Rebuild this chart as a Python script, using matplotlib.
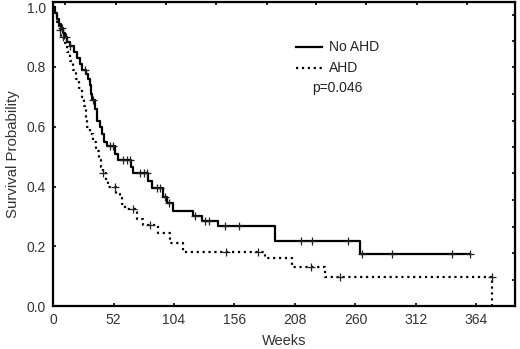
import numpy as np
from matplotlib import pyplot as plt

plt.rcParams['font.family'] = ['Liberation Sans', 'DejaVu Sans']

# step curves: time (weeks) where the survival drops, and the new level
no_ahd_t = [0, 1.7, 3.4, 5.1, 6.9, 8.6, 10.3, 12.0, 14.6, 18.0, 20.6, 23.2, 24.9,
            28.3, 30.0, 31.8, 32.6, 33.5, 36.0, 37.8, 40.3, 42.0, 43.8, 46.3, 53.2,
            55.8, 66.9, 68.6, 81.5, 84.9, 94.4, 97.8, 103.0, 120.1, 128.3, 141.6,
            190.5, 264.3]
no_ahd_s = [1.0, 0.98, 0.96, 0.945, 0.93, 0.915, 0.9, 0.885, 0.87, 0.85, 0.83, 0.81,
            0.79, 0.775, 0.76, 0.74, 0.71, 0.69, 0.66, 0.62, 0.6, 0.575, 0.55, 0.535,
            0.51, 0.49, 0.465, 0.445, 0.42, 0.395, 0.365, 0.345, 0.318, 0.30, 0.285,
            0.268, 0.217, 0.174]
no_ahd_end = 358.6
no_ahd_cens = [7.7, 11.2, 14.6, 27.5, 34.3, 48.9, 51.5, 60, 63.5, 66, 74.6, 78, 80.6,
               89.2, 91.8, 96.1, 99.5, 121.8, 130.4, 133.8, 147.6, 159.6, 213.6,
               223, 254, 265.2, 291, 343, 358.6]

ahd_t = [0, 1.7, 3.4, 5.1, 6.9, 9.4, 12.0, 14.6, 17.2, 19.7, 22.3, 24.9, 26.6, 28.3,
         29.5, 32.0, 34.3, 37.0, 39.5, 41.0, 42.9, 45.5, 47.2, 54.1, 57.5, 59.2, 61.8,
         72.1, 77.2, 90.1, 100.4, 111.5, 181.9, 205.1, 233.4, 377.5]
ahd_s = [1.0, 0.975, 0.95, 0.925, 0.9, 0.88, 0.85, 0.82, 0.79, 0.76, 0.73, 0.70,
         0.67, 0.63, 0.60, 0.575, 0.55, 0.52, 0.49, 0.465, 0.445, 0.42, 0.40, 0.375,
         0.36, 0.34, 0.325, 0.29, 0.27, 0.244, 0.21, 0.18, 0.16, 0.13, 0.097, 0.0]
ahd_end = 377.5
ahd_cens = [6.0, 8.5, 42.9, 53.2, 68.6, 83.2, 148.4, 175.9, 222.2, 247.1, 377.0]

x_ticks = [0, 52, 104, 156, 208, 260, 312, 364]
y_ticks = [0.0, 0.2, 0.4, 0.6, 0.8, 1.0]


def level_at(t, times, surv):
    idx = np.searchsorted(times, t, side='right') - 1
    return np.array(surv)[idx]


fig = plt.figure(figsize=(5.2, 3.49), dpi=100)
ax = fig.add_axes([0.102, 0.123, 0.888, 0.871])

for times, surv, end, cens, ls, lw in [
        (no_ahd_t, no_ahd_s, no_ahd_end, no_ahd_cens, '-', 1.6),
        (ahd_t, ahd_s, ahd_end, ahd_cens, ':', 1.6)]:
    tt = list(times) + [end]
    ss = list(surv) + [surv[-1]]
    ax.step(tt, ss, where='post', color='black', linestyle=ls, linewidth=lw)
    cy = level_at(np.array(cens), np.array(times), surv)
    if ls == ':':
        cy = np.where(np.array(cens) >= end - 1, surv[-2], cy)
    ax.plot(cens, cy, linestyle='none', marker='+', color='#222222',
            markersize=6, markeredgewidth=0.9)

ax.set_xlim(0, 397)
ax.set_ylim(0, 1.017)
ax.set_xticks(x_ticks)
ax.set_yticks(y_ticks)
ax.set_yticklabels(['%.1f' % v for v in y_ticks])
ax.tick_params(direction='in', length=2.5, width=1.2, labelsize=10,
               labelcolor='#333333', pad=5)
for sp in ax.spines.values():
    sp.set_linewidth(1.6)

# extra unlabeled ticks on top and right
top = ax.secondary_xaxis('top')
top.set_xticks([10.3, 54, 97, 140, 183.6, 226.5, 269.4, 313, 356])
top.tick_params(direction='in', length=2.5, width=1.2, labeltop=False)
right = ax.secondary_yaxis('right')
right.set_yticks([0.087, 0.177, 0.264, 0.355, 0.445, 0.532, 0.619, 0.709, 0.8,
                  0.886, 0.973])
right.tick_params(direction='in', length=2.5, width=1.2, labelright=False)

ax.set_xlabel('Weeks', fontsize=10.5, color='#333333', labelpad=5)
ax.set_ylabel('Survival Probability', fontsize=10.8, color='#333333', labelpad=5)

# legend drawn by hand
ax.plot([209, 231], [0.866, 0.866], color='black', linewidth=1.6)
ax.plot([209, 231], [0.796, 0.796], color='black', linewidth=1.6, linestyle=':')
ax.text(237, 0.866, 'No AHD', fontsize=10, va='center', color='#222222')
ax.text(237, 0.796, 'AHD', fontsize=10, va='center', color='#222222')
ax.text(223, 0.729, 'p=0.046', fontsize=10, va='center', color='#222222')

fig.savefig('out.png', dpi=100)
